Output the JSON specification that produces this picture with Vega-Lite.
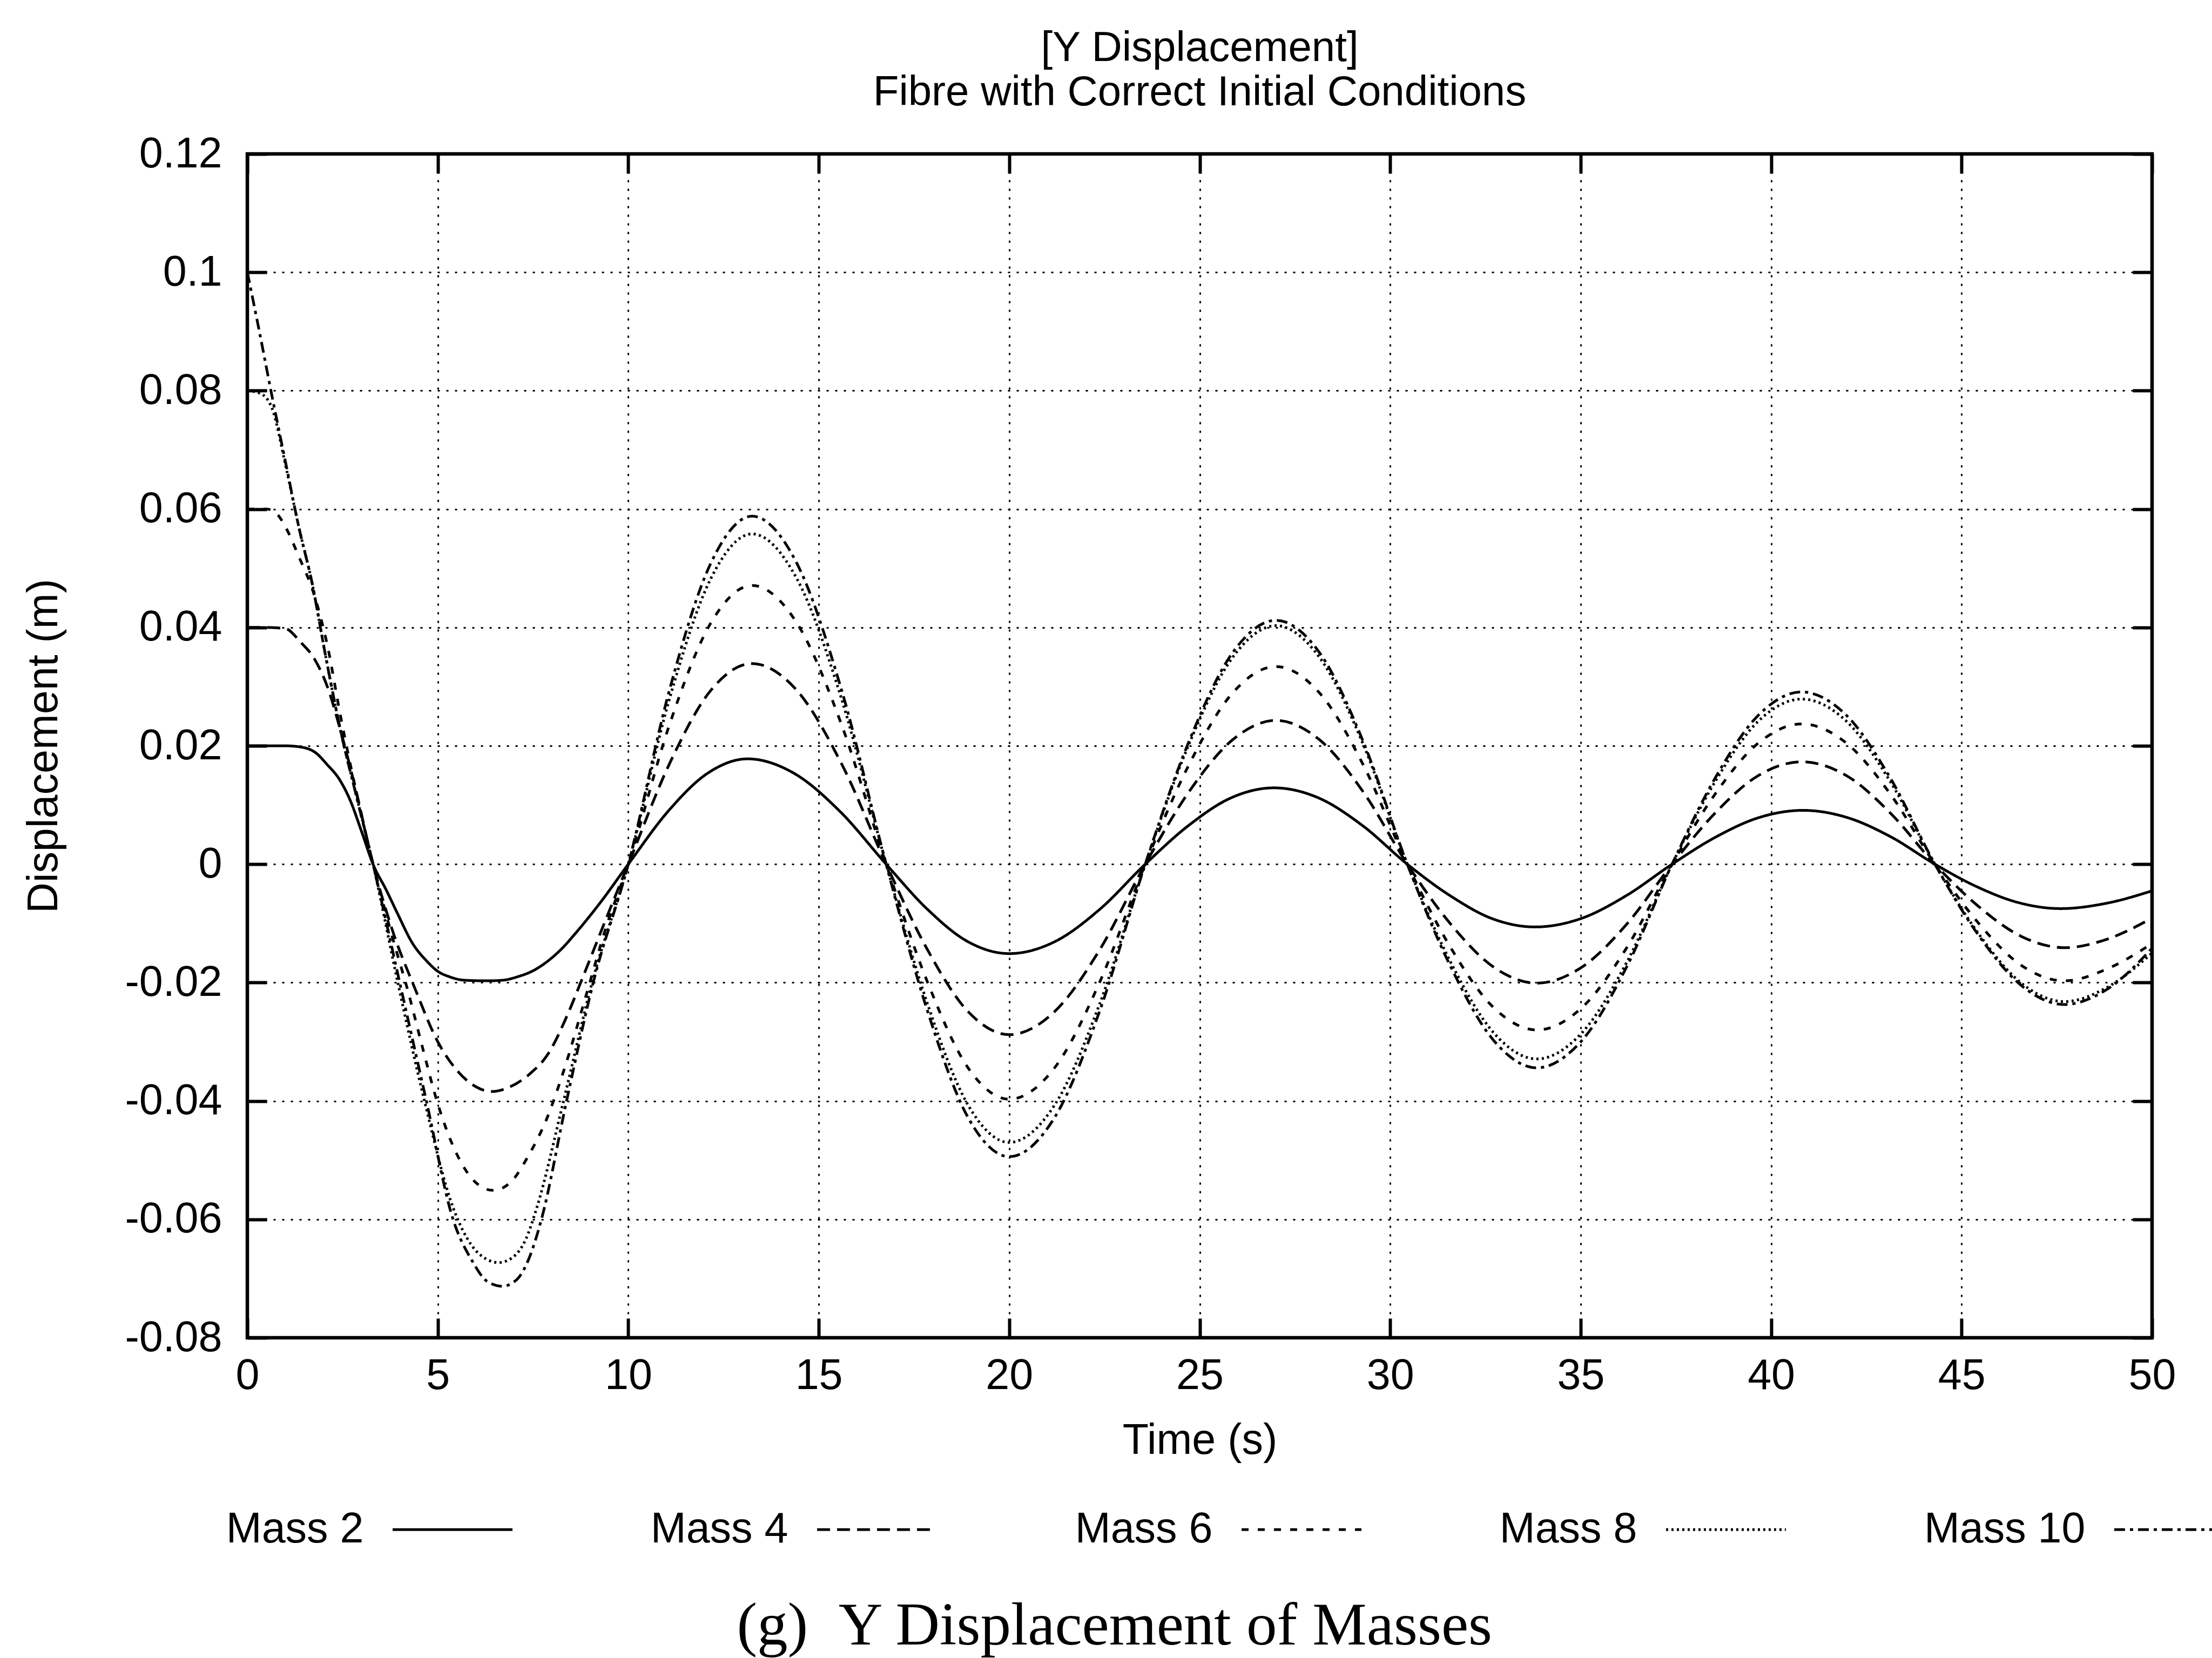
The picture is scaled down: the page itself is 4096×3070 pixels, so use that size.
{
  "$schema": "https://vega.github.io/schema/vega-lite/v6.json",
  "padding": {"left": 38, "top": 47, "right": 0, "bottom": 10},
  "background": "white",
  "datasets": {
    "d": [
      {"m":"Mass 2","t":0,"v":0.02},{"m":"Mass 2","t":0.5,"v":0.02},{"m":"Mass 2","t":1.0,"v":0.02},{"m":"Mass 2","t":1.4,"v":0.0198},{"m":"Mass 2","t":1.8,"v":0.0188},{"m":"Mass 2","t":2.1,"v":0.0168},{"m":"Mass 2","t":2.4,"v":0.0145},{"m":"Mass 2","t":2.7,"v":0.0108},{"m":"Mass 2","t":3.0,"v":0.0055},{"m":"Mass 2","t":3.3,"v":0},{"m":"Mass 2","t":3.65,"v":-0.0044},{"m":"Mass 2","t":3.94,"v":-0.0083},{"m":"Mass 2","t":4.33,"v":-0.0133},{"m":"Mass 2","t":4.73,"v":-0.0165},{"m":"Mass 2","t":5.0,"v":-0.0181},{"m":"Mass 2","t":5.3,"v":-0.019},{"m":"Mass 2","t":5.7,"v":-0.0196},{"m":"Mass 2","t":6.3,"v":-0.0197},{"m":"Mass 2","t":6.7,"v":-0.0196},{"m":"Mass 2","t":7.1,"v":-0.019},{"m":"Mass 2","t":7.5,"v":-0.018},{"m":"Mass 2","t":7.86,"v":-0.0165},{"m":"Mass 2","t":8.25,"v":-0.0143},{"m":"Mass 2","t":8.65,"v":-0.0114},{"m":"Mass 2","t":9.24,"v":-0.0067},{"m":"Mass 2","t":10.0,"v":0},
      {"m":"Mass 2","t":11.04,"v":0.0089},{"m":"Mass 2","t":12.09,"v":0.0154},{"m":"Mass 2","t":13.13,"v":0.0178},{"m":"Mass 2","t":14.34,"v":0.0154},{"m":"Mass 2","t":15.56,"v":0.0089},{"m":"Mass 2","t":16.77,"v":0},
      {"m":"Mass 2","t":17.85,"v":-0.0076},{"m":"Mass 2","t":18.92,"v":-0.0131},{"m":"Mass 2","t":20.0,"v":-0.0151},{"m":"Mass 2","t":21.19,"v":-0.0131},{"m":"Mass 2","t":22.38,"v":-0.0076},{"m":"Mass 2","t":23.57,"v":0},
      {"m":"Mass 2","t":24.7,"v":0.0065},{"m":"Mass 2","t":25.82,"v":0.0112},{"m":"Mass 2","t":26.95,"v":0.0129},{"m":"Mass 2","t":28.12,"v":0.0112},{"m":"Mass 2","t":29.28,"v":0.0065},{"m":"Mass 2","t":30.45,"v":0},
      {"m":"Mass 2","t":31.57,"v":-0.0053},{"m":"Mass 2","t":32.68,"v":-0.0092},{"m":"Mass 2","t":33.8,"v":-0.0106},{"m":"Mass 2","t":35.0,"v":-0.0092},{"m":"Mass 2","t":36.2,"v":-0.0053},{"m":"Mass 2","t":37.4,"v":0},
      {"m":"Mass 2","t":38.55,"v":0.0046},{"m":"Mass 2","t":39.69,"v":0.0079},{"m":"Mass 2","t":40.84,"v":0.0091},{"m":"Mass 2","t":41.99,"v":0.0079},{"m":"Mass 2","t":43.15,"v":0.0046},{"m":"Mass 2","t":44.3,"v":0},
      {"m":"Mass 2","t":45.4,"v":-0.0038},{"m":"Mass 2","t":46.5,"v":-0.0065},{"m":"Mass 2","t":47.6,"v":-0.0075},{"m":"Mass 2","t":48.8,"v":-0.0066},{"m":"Mass 2","t":50,"v":-0.0045},

      {"m":"Mass 4","t":0,"v":0.04},{"m":"Mass 4","t":0.5,"v":0.04},{"m":"Mass 4","t":1.0,"v":0.0398},{"m":"Mass 4","t":1.4,"v":0.0375},{"m":"Mass 4","t":1.75,"v":0.0348},{"m":"Mass 4","t":2.1,"v":0.03},{"m":"Mass 4","t":2.45,"v":0.0225},{"m":"Mass 4","t":2.85,"v":0.0125},{"m":"Mass 4","t":3.3,"v":0},
      {"m":"Mass 4","t":3.8,"v":-0.011},{"m":"Mass 4","t":4.4,"v":-0.021},{"m":"Mass 4","t":5.0,"v":-0.03},{"m":"Mass 4","t":5.5,"v":-0.0348},{"m":"Mass 4","t":6.0,"v":-0.0376},{"m":"Mass 4","t":6.4,"v":-0.0384},{"m":"Mass 4","t":6.9,"v":-0.0376},{"m":"Mass 4","t":7.4,"v":-0.0355},{"m":"Mass 4","t":7.9,"v":-0.032},{"m":"Mass 4","t":8.4,"v":-0.0255},{"m":"Mass 4","t":8.75,"v":-0.02},{"m":"Mass 4","t":9.4,"v":-0.0095},{"m":"Mass 4","t":10,"v":0},
      {"m":"Mass 4","t":11.08,"v":0.01695},{"m":"Mass 4","t":12.17,"v":0.0294},{"m":"Mass 4","t":13.25,"v":0.0339},{"m":"Mass 4","t":14.42,"v":0.0294},{"m":"Mass 4","t":15.6,"v":0.01695},{"m":"Mass 4","t":16.77,"v":0},
      {"m":"Mass 4","t":17.85,"v":-0.0144},{"m":"Mass 4","t":18.92,"v":-0.0249},{"m":"Mass 4","t":20.0,"v":-0.0288},{"m":"Mass 4","t":21.19,"v":-0.0249},{"m":"Mass 4","t":22.38,"v":-0.0144},{"m":"Mass 4","t":23.57,"v":0},
      {"m":"Mass 4","t":24.71,"v":0.01215},{"m":"Mass 4","t":25.86,"v":0.021},{"m":"Mass 4","t":27.0,"v":0.0243},{"m":"Mass 4","t":28.15,"v":0.021},{"m":"Mass 4","t":29.3,"v":0.01215},{"m":"Mass 4","t":30.45,"v":0},
      {"m":"Mass 4","t":31.58,"v":-0.01005},{"m":"Mass 4","t":32.72,"v":-0.0174},{"m":"Mass 4","t":33.85,"v":-0.0201},{"m":"Mass 4","t":35.03,"v":-0.0174},{"m":"Mass 4","t":36.22,"v":-0.01005},{"m":"Mass 4","t":37.4,"v":0},
      {"m":"Mass 4","t":38.53,"v":0.00865},{"m":"Mass 4","t":39.67,"v":0.015},{"m":"Mass 4","t":40.8,"v":0.0173},{"m":"Mass 4","t":41.97,"v":0.015},{"m":"Mass 4","t":43.13,"v":0.00865},{"m":"Mass 4","t":44.3,"v":0},
      {"m":"Mass 4","t":45.43,"v":-0.00705},{"m":"Mass 4","t":46.57,"v":-0.0122},{"m":"Mass 4","t":47.7,"v":-0.0141},{"m":"Mass 4","t":48.85,"v":-0.0126},{"m":"Mass 4","t":50,"v":-0.0091},

      {"m":"Mass 6","t":0,"v":0.06},{"m":"Mass 6","t":0.5,"v":0.06},{"m":"Mass 6","t":0.8,"v":0.059},{"m":"Mass 6","t":1.0,"v":0.057},{"m":"Mass 6","t":1.35,"v":0.052},{"m":"Mass 6","t":1.75,"v":0.0456},{"m":"Mass 6","t":2.1,"v":0.037},{"m":"Mass 6","t":2.45,"v":0.0249},{"m":"Mass 6","t":2.85,"v":0.0125},{"m":"Mass 6","t":3.3,"v":0},
      {"m":"Mass 6","t":3.75,"v":-0.011},{"m":"Mass 6","t":4.24,"v":-0.022},{"m":"Mass 6","t":4.6,"v":-0.031},{"m":"Mass 6","t":5.0,"v":-0.0405},{"m":"Mass 6","t":5.5,"v":-0.049},{"m":"Mass 6","t":6.0,"v":-0.0538},{"m":"Mass 6","t":6.45,"v":-0.0551},{"m":"Mass 6","t":6.9,"v":-0.0538},{"m":"Mass 6","t":7.4,"v":-0.049},{"m":"Mass 6","t":7.86,"v":-0.043},{"m":"Mass 6","t":8.3,"v":-0.035},{"m":"Mass 6","t":8.9,"v":-0.022},{"m":"Mass 6","t":9.4,"v":-0.011},{"m":"Mass 6","t":10,"v":0},
      {"m":"Mass 6","t":11.08,"v":0.02355},{"m":"Mass 6","t":12.17,"v":0.0408},{"m":"Mass 6","t":13.25,"v":0.0471},{"m":"Mass 6","t":14.42,"v":0.0408},{"m":"Mass 6","t":15.6,"v":0.02355},{"m":"Mass 6","t":16.77,"v":0},
      {"m":"Mass 6","t":17.85,"v":-0.01985},{"m":"Mass 6","t":18.92,"v":-0.0344},{"m":"Mass 6","t":20.0,"v":-0.0397},{"m":"Mass 6","t":21.19,"v":-0.0344},{"m":"Mass 6","t":22.38,"v":-0.01985},{"m":"Mass 6","t":23.57,"v":0},
      {"m":"Mass 6","t":24.71,"v":0.0167},{"m":"Mass 6","t":25.86,"v":0.0289},{"m":"Mass 6","t":27.0,"v":0.0334},{"m":"Mass 6","t":28.15,"v":0.0289},{"m":"Mass 6","t":29.3,"v":0.0167},{"m":"Mass 6","t":30.45,"v":0},
      {"m":"Mass 6","t":31.58,"v":-0.014},{"m":"Mass 6","t":32.72,"v":-0.02425},{"m":"Mass 6","t":33.85,"v":-0.028},{"m":"Mass 6","t":35.03,"v":-0.02425},{"m":"Mass 6","t":36.22,"v":-0.014},{"m":"Mass 6","t":37.4,"v":0},
      {"m":"Mass 6","t":38.53,"v":0.01185},{"m":"Mass 6","t":39.67,"v":0.0205},{"m":"Mass 6","t":40.8,"v":0.0237},{"m":"Mass 6","t":41.97,"v":0.0205},{"m":"Mass 6","t":43.13,"v":0.01185},{"m":"Mass 6","t":44.3,"v":0},
      {"m":"Mass 6","t":45.43,"v":-0.00985},{"m":"Mass 6","t":46.57,"v":-0.0171},{"m":"Mass 6","t":47.7,"v":-0.0197},{"m":"Mass 6","t":48.85,"v":-0.0176},{"m":"Mass 6","t":50,"v":-0.0134},

      {"m":"Mass 8","t":0,"v":0.08},{"m":"Mass 8","t":0.35,"v":0.0795},{"m":"Mass 8","t":0.65,"v":0.077},{"m":"Mass 8","t":1.0,"v":0.0675},{"m":"Mass 8","t":1.35,"v":0.057},{"m":"Mass 8","t":1.7,"v":0.0475},{"m":"Mass 8","t":2.06,"v":0.035},{"m":"Mass 8","t":2.46,"v":0.0222},{"m":"Mass 8","t":2.86,"v":0.0116},{"m":"Mass 8","t":3.3,"v":0},
      {"m":"Mass 8","t":3.95,"v":-0.02},{"m":"Mass 8","t":4.65,"v":-0.04},{"m":"Mass 8","t":5.4,"v":-0.058},{"m":"Mass 8","t":5.9,"v":-0.0645},{"m":"Mass 8","t":6.3,"v":-0.0668},{"m":"Mass 8","t":6.6,"v":-0.0673},{"m":"Mass 8","t":6.95,"v":-0.0665},{"m":"Mass 8","t":7.3,"v":-0.0635},{"m":"Mass 8","t":7.6,"v":-0.058},{"m":"Mass 8","t":8.3,"v":-0.04},{"m":"Mass 8","t":9.05,"v":-0.02},{"m":"Mass 8","t":10,"v":0},
      {"m":"Mass 8","t":11.08,"v":0.0279},{"m":"Mass 8","t":12.17,"v":0.0483},{"m":"Mass 8","t":13.25,"v":0.0558},{"m":"Mass 8","t":14.42,"v":0.0483},{"m":"Mass 8","t":15.6,"v":0.0279},{"m":"Mass 8","t":16.77,"v":0},
      {"m":"Mass 8","t":17.85,"v":-0.0235},{"m":"Mass 8","t":18.92,"v":-0.0407},{"m":"Mass 8","t":20.0,"v":-0.047},{"m":"Mass 8","t":21.19,"v":-0.0407},{"m":"Mass 8","t":22.38,"v":-0.0235},{"m":"Mass 8","t":23.57,"v":0},
      {"m":"Mass 8","t":24.71,"v":0.02015},{"m":"Mass 8","t":25.86,"v":0.0349},{"m":"Mass 8","t":27.0,"v":0.0403},{"m":"Mass 8","t":28.15,"v":0.0349},{"m":"Mass 8","t":29.3,"v":0.02015},{"m":"Mass 8","t":30.45,"v":0},
      {"m":"Mass 8","t":31.58,"v":-0.01645},{"m":"Mass 8","t":32.72,"v":-0.0285},{"m":"Mass 8","t":33.85,"v":-0.0329},{"m":"Mass 8","t":35.03,"v":-0.0285},{"m":"Mass 8","t":36.22,"v":-0.01645},{"m":"Mass 8","t":37.4,"v":0},
      {"m":"Mass 8","t":38.53,"v":0.01395},{"m":"Mass 8","t":39.67,"v":0.0242},{"m":"Mass 8","t":40.8,"v":0.0279},{"m":"Mass 8","t":41.97,"v":0.0242},{"m":"Mass 8","t":43.13,"v":0.01395},{"m":"Mass 8","t":44.3,"v":0},
      {"m":"Mass 8","t":45.43,"v":-0.0116},{"m":"Mass 8","t":46.57,"v":-0.0201},{"m":"Mass 8","t":47.7,"v":-0.0232},{"m":"Mass 8","t":48.85,"v":-0.0207},{"m":"Mass 8","t":50,"v":-0.015},

      {"m":"Mass 10","t":0,"v":0.1},{"m":"Mass 10","t":0.3,"v":0.0905},{"m":"Mass 10","t":0.65,"v":0.079},{"m":"Mass 10","t":1.0,"v":0.068},{"m":"Mass 10","t":1.35,"v":0.057},{"m":"Mass 10","t":1.7,"v":0.0475},{"m":"Mass 10","t":2.06,"v":0.035},{"m":"Mass 10","t":2.46,"v":0.0222},{"m":"Mass 10","t":2.86,"v":0.0116},{"m":"Mass 10","t":3.3,"v":0},
      {"m":"Mass 10","t":4.0,"v":-0.02},{"m":"Mass 10","t":4.7,"v":-0.04},{"m":"Mass 10","t":5.4,"v":-0.06},{"m":"Mass 10","t":5.9,"v":-0.067},{"m":"Mass 10","t":6.3,"v":-0.0705},{"m":"Mass 10","t":6.7,"v":-0.0713},{"m":"Mass 10","t":7.1,"v":-0.07},{"m":"Mass 10","t":7.4,"v":-0.0665},{"m":"Mass 10","t":7.72,"v":-0.06},{"m":"Mass 10","t":8.38,"v":-0.04},{"m":"Mass 10","t":9.08,"v":-0.02},{"m":"Mass 10","t":10,"v":0},
      {"m":"Mass 10","t":11.08,"v":0.0294},{"m":"Mass 10","t":12.17,"v":0.0509},{"m":"Mass 10","t":13.25,"v":0.0588},{"m":"Mass 10","t":14.42,"v":0.0509},{"m":"Mass 10","t":15.6,"v":0.0294},{"m":"Mass 10","t":16.77,"v":0},
      {"m":"Mass 10","t":17.85,"v":-0.0247},{"m":"Mass 10","t":18.92,"v":-0.0428},{"m":"Mass 10","t":20.0,"v":-0.0494},{"m":"Mass 10","t":21.19,"v":-0.0428},{"m":"Mass 10","t":22.38,"v":-0.0247},{"m":"Mass 10","t":23.57,"v":0},
      {"m":"Mass 10","t":24.71,"v":0.0206},{"m":"Mass 10","t":25.86,"v":0.0357},{"m":"Mass 10","t":27.0,"v":0.0412},{"m":"Mass 10","t":28.15,"v":0.0357},{"m":"Mass 10","t":29.3,"v":0.0206},{"m":"Mass 10","t":30.45,"v":0},
      {"m":"Mass 10","t":31.58,"v":-0.0172},{"m":"Mass 10","t":32.72,"v":-0.0298},{"m":"Mass 10","t":33.85,"v":-0.0344},{"m":"Mass 10","t":35.03,"v":-0.0298},{"m":"Mass 10","t":36.22,"v":-0.0172},{"m":"Mass 10","t":37.4,"v":0},
      {"m":"Mass 10","t":38.53,"v":0.01455},{"m":"Mass 10","t":39.67,"v":0.0252},{"m":"Mass 10","t":40.8,"v":0.0291},{"m":"Mass 10","t":41.97,"v":0.0252},{"m":"Mass 10","t":43.13,"v":0.01455},{"m":"Mass 10","t":44.3,"v":0},
      {"m":"Mass 10","t":45.43,"v":-0.01185},{"m":"Mass 10","t":46.57,"v":-0.0205},{"m":"Mass 10","t":47.7,"v":-0.0237},{"m":"Mass 10","t":48.85,"v":-0.021},{"m":"Mass 10","t":50,"v":-0.0142}
    ]
  },
  "title": {
    "text": "(g)\u2002Y Displacement of Masses",
    "orient": "bottom",
    "anchor": "middle",
    "frame": "bounds",
    "font": "Liberation Serif",
    "fontSize": 113,
    "fontWeight": "normal",
    "color": "black",
    "offset": 80,
    "dx": -31
  },
  "vconcat": [
    {
      "width": 3527,
      "height": 2192,
      "title": {
        "text": ["[Y Displacement]", "Fibre with Correct Initial Conditions"],
        "anchor": "middle",
        "frame": "group",
        "font": "Liberation Sans",
        "fontSize": 78,
        "fontWeight": "normal",
        "lineHeight": 82,
        "offset": 35,
        "color": "black"
      },
      "data": {"name": "d"},
      "layer": [
        {
          "mark": {"type": "line", "color": "black", "strokeWidth": 5, "interpolate": "monotone"},
          "encoding": {
            "x": {
              "field": "t", "type": "quantitative",
              "scale": {"domain": [0, 50], "nice": false, "zero": false},
              "axis": {
                "orient": "bottom", "title": "Time (s)",
                "values": [0, 5, 10, 15, 20, 25, 30, 35, 40, 45, 50],
                "grid": true, "domain": false, "ticks": true, "tickSize": -36,
                "labelPadding": 68, "titlePadding": 42
              }
            },
            "y": {
              "field": "v", "type": "quantitative",
              "scale": {"domain": [-0.08, 0.12], "nice": false, "zero": false},
              "axis": {
                "orient": "left", "title": "Displacement (m)",
                "values": [-0.08, -0.06, -0.04, -0.02, 0, 0.02, 0.04, 0.06, 0.08, 0.1, 0.12],
                "labelExpr": "toString(datum.value)",
                "grid": true, "domain": false, "ticks": true, "tickSize": -36,
                "labelPadding": 83, "titlePadding": 136, "labelLimit": 1000
              }
            },
            "strokeDash": {
              "field": "m", "type": "nominal",
              "scale": {
                "domain": ["Mass 2", "Mass 4", "Mass 6", "Mass 8", "Mass 10"],
                "range": [[1, 0], [24, 13], [13, 17], [4, 6], [20, 9, 6, 9]]
              },
              "legend": {
                "orient": "none", "legendX": 266.5, "legendY": 2433.5,
                "direction": "horizontal", "columns": 5, "title": null,
                "symbolType": "stroke", "symbolSize": 49284, "symbolStrokeWidth": 5,
                "symbolStrokeColor": "black",
                "labelFont": "Liberation Sans", "labelFontSize": 79, "labelColor": "black",
                "labelAlign": "right", "labelOffset": -278, "labelLimit": 0,
                "columnPadding": 245, "padding": 0
              }
            }
          }
        },
        {
          "mark": {"type": "point", "opacity": 0},
          "encoding": {
            "x": {
              "field": "t", "type": "quantitative",
              "axis": {
                "orient": "top", "title": null, "labels": false, "grid": false, "domain": false,
                "values": [0, 5, 10, 15, 20, 25, 30, 35, 40, 45, 50],
                "ticks": true, "tickSize": -36
              }
            },
            "y": {
              "field": "v", "type": "quantitative",
              "axis": {
                "orient": "right", "title": null, "labels": false, "grid": false, "domain": false,
                "values": [-0.08, -0.06, -0.04, -0.02, 0, 0.02, 0.04, 0.06, 0.08, 0.1, 0.12],
                "ticks": true, "tickSize": -36
              }
            }
          }
        }
      ],
      "resolve": {"axis": {"x": "independent", "y": "independent"}}
    }
  ],
  "resolve": {"legend": {"strokeDash": "independent"}},
  "config": {
    "font": "Liberation Sans",
    "view": {"stroke": "black", "strokeWidth": 6.5},
    "axis": {
      "labelFont": "Liberation Sans", "labelFontSize": 79, "labelColor": "black",
      "titleFont": "Liberation Sans", "titleFontSize": 79, "titleFontWeight": "normal", "titleColor": "black",
      "tickColor": "black", "tickWidth": 6,
      "gridColor": "black", "gridOpacity": 1, "gridWidth": 3, "gridDash": [4, 12],
      "labelOverlap": false, "labelFlush": false
    }
  }
}
